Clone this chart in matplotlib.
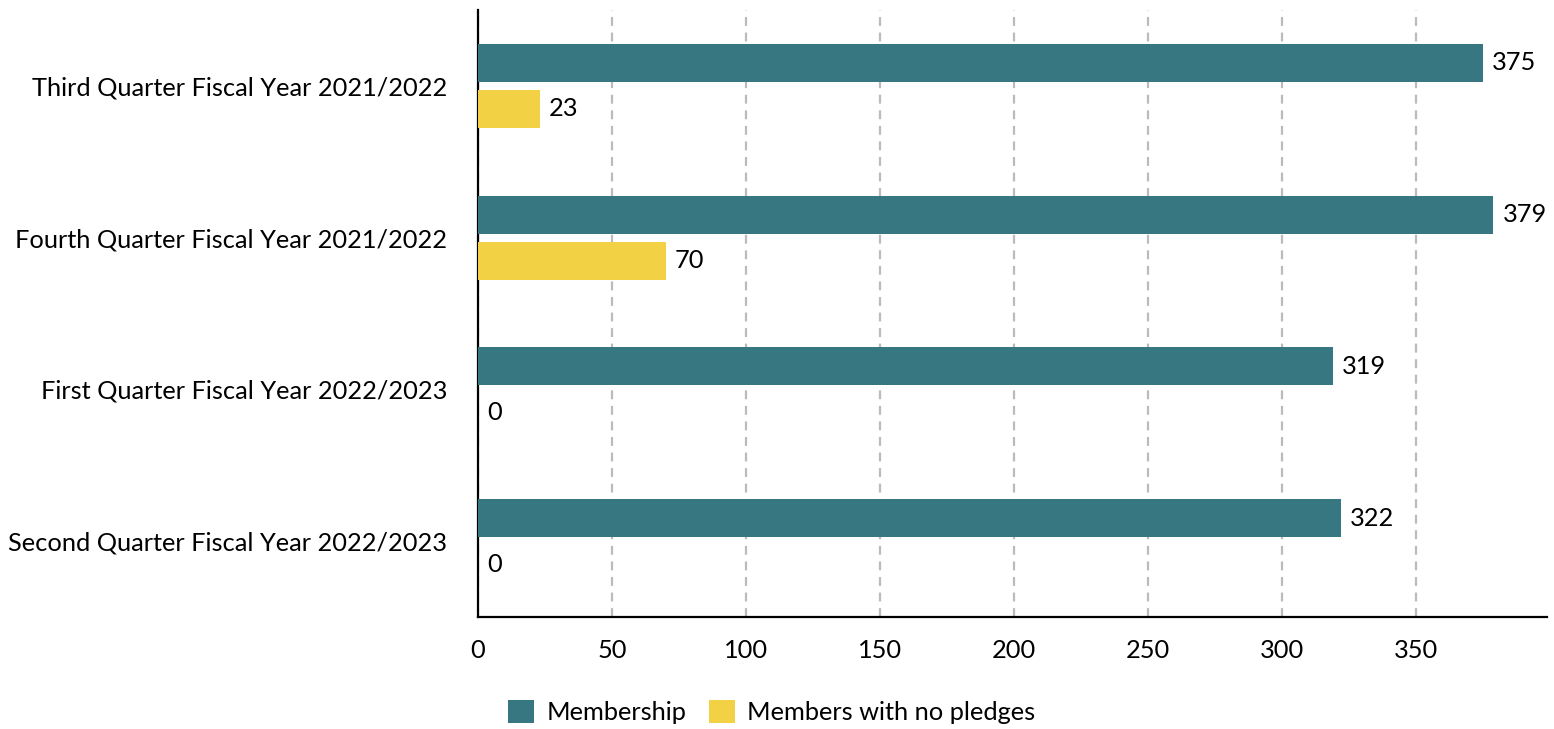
import numpy as np
from matplotlib import pyplot as plt
from matplotlib.patches import Patch

categories = ['Third Quarter Fiscal Year 2021/2022',
              'Fourth Quarter Fiscal Year 2021/2022',
              'First Quarter Fiscal Year 2022/2023',
              'Second Quarter Fiscal Year 2022/2023']
membership = [375, 379, 319, 322]
no_pledges = [23, 70, 0, 0]
series_names = ['Membership', 'Members with no pledges']
xticks = [0, 50, 100, 150, 200, 250, 300, 350]

teal = '#377782'
yellow = '#f3d144'
fs = 18.3

plt.rcParams['font.family'] = ['Lato', 'DejaVu Sans']

W, H = 1554, 729
fig = plt.figure(figsize=(W / 100, H / 100), dpi=100)
ax = fig.add_axes([478 / W, (H - 617) / H, (1547 - 478) / W, (617 - 10) / H])

y = np.arange(len(categories))
bh = 0.25
off = 0.151
b1 = ax.barh(y - off, membership, height=bh, color=teal, zorder=3)
b2 = ax.barh(y + off, no_pledges, height=bh, color=yellow, zorder=3)

for bars, vals in ((b1, membership), (b2, no_pledges)):
  for b, v in zip(bars, vals):
    ax.annotate(str(v), xy=(v, b.get_y() + b.get_height() / 2), xytext=(6.5, 0),
                textcoords='offset points', va='center', ha='left', fontsize=fs)

ax.set_ylim(len(categories) - 0.5, -0.5)
ax.set_xlim(0, 399)
ax.set_yticks(y)
ax.set_yticklabels(categories, fontsize=fs)
ax.set_xticks(xticks)
ax.set_xticklabels([str(t) for t in xticks], fontsize=fs)
ax.tick_params(axis='both', length=0)
ax.tick_params(axis='x', pad=16)
ax.tick_params(axis='y', pad=22)

ax.xaxis.grid(True, linestyle=(0, (4, 3)), color='#bbbbbb', linewidth=1.6, zorder=0)
ax.set_axisbelow(True)
for s in ['top', 'right']:
  ax.spines[s].set_visible(False)
ax.spines['left'].set_linewidth(1.6)
ax.spines['bottom'].set_linewidth(1.6)

handles = [Patch(facecolor=teal, label=series_names[0]),
           Patch(facecolor=yellow, label=series_names[1])]
fig.legend(handles=handles, loc='center', bbox_to_anchor=(772 / W, (H - 712) / H),
           ncol=2, frameon=False, fontsize=fs, handlelength=1.0, handleheight=1.0,
           handletextpad=0.5, columnspacing=0.9)

fig.savefig('out.png', dpi=100)
